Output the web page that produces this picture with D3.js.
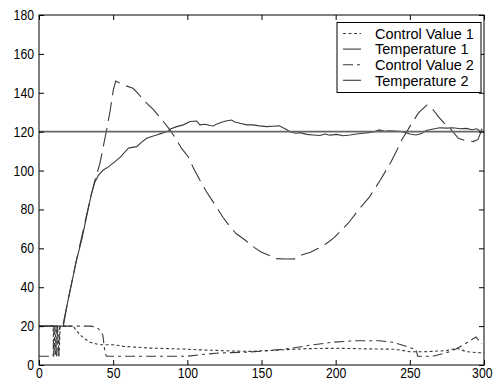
<!DOCTYPE html>
<html>
<head>
<meta charset="utf-8">
<script src="https://cdn.jsdelivr.net/npm/d3@7/dist/d3.min.js"></script>
<style>
  html, body { margin: 0; padding: 0; background: #fff; }
  svg { display: block; }
  text { font-family: "Liberation Sans", Arial, Helvetica, sans-serif; fill: #000; }
</style>
</head>
<body>
<svg id="chart" width="496" height="383"></svg>
<script>
// ---------------- data ----------------
const xTicks = [0, 50, 100, 150, 200, 250, 300];
const yTicks = [0, 20, 40, 60, 80, 100, 120, 140, 160, 180];
const legendLabels = ["Control Value 1", "Temperature 1", "Control Value 2", "Temperature 2"];
const setpointValue = 120;

// Temperature 1 (solid)
const temp1Time = [0,15,16.4,19,22,25,28.8,32,35.5,37.8,40,43.4,47,51.2,55,60.2,62,65.9,69,72.6,76,79.3,82,86.1,89,92.8,97.3,101.8,106.3,108.5,112,115.3,117.5,120,123.1,126,129.9,132,135.5,140,144.5,148.5,153.5,158,162,166.5,169.2,173,176,180.5,185,189.4,193,196,200.7,205,209.7,214,218.6,222,226,229.4,233,236,240,245,250,254.2,258,261,265,270,275,279,284,288,292,295,297,300];
const temp1Vals = [20,20,20,31,42,53,64.5,76,88.5,94.3,97.5,100.3,102,104.6,107,111.5,111.8,112.3,114.5,116.6,117.5,118.3,119,120,121.5,122.6,123.5,125.2,125.5,123.5,123.8,123.2,122.9,124,124.8,125.5,126,125,124.3,123.5,123.5,123,122.6,122.8,123,121.2,120,119.2,119.5,118.6,118.3,118,118.8,118.2,118.6,117.9,118.3,118.8,119.2,119.5,120,120.9,120.2,120.5,120.3,120,118.8,118.3,119,120.6,121.2,122,121.8,122,121.5,121.7,121,121.5,120.5,120];

// Temperature 2 (dashed)
const temp2Time = [0,16,20,25,30,34.4,37,41.1,45.6,48,50.1,51.7,57,63.4,67,70.3,77,83,88.3,92.8,96,100.7,104,108.5,113,118.7,124,128.8,133,138.9,145,150,154.6,160,167,173,177,183,188.3,194,199,204,208.5,215.3,223,230,237,241,244.5,250,255.7,261.4,263.6,266,269.2,273,277,282.7,287,292.8,296,298,300];
const temp2Vals = [20,20,35,53,70,84.9,93,103.8,120.9,131,141.5,146,144,142.3,139.5,136.3,131.5,126,120.9,115.7,111.5,107,101.5,95,89,82.3,76,71.1,67.5,64.3,60.5,58,56.6,54.7,54.5,54.6,56.6,58,60,62.6,65.5,69.4,72.9,79.7,86.6,95,104,110,115.7,122.6,129.5,133.7,133,131,127.7,124.5,121.8,116.6,115.5,114.9,116,120,125];

// Control Value 1 (dotted)
const cv1Time = [0,9.5,10,10.8,11.8,12.6,13.5,14.3,23,26,29.9,34.4,41.1,50.1,56.8,65,74.8,85,97.3,108,119.8,130,142.2,150,160,170,180,190,200,210,220,230,240,245,250,260,270,274.8,281.6,288.3,297.3,300];
const cv1Vals = [20,20,4.5,20,4.5,20,4.5,20,20,17,13.9,11.7,10.4,10.4,9.6,9.2,8.7,8.5,8.2,7.8,7.5,7.2,7.0,7.3,7.6,8,8.4,8.5,8.6,8.5,8.3,8.2,8.1,7.5,6.8,6.8,7.2,7.4,8.6,6.8,6.3,6.2];

// Control Value 2 (dash-dot)
const cv2Time = [0,9.5,10,11,12,13,14,23,35.5,40,43,44.5,45.6,63.6,80,99.6,108.5,122,139.6,150,162,171,184.5,198,213.7,229.4,238.4,247.4,254.2,255.3,265.4,274.4,281.1,289,294.6,297,298.5];
const cv2Vals = [4.5,4.5,20,4.5,20,4.5,20,20,20,18.7,15.6,6.2,4.5,4.5,4.5,4.5,5.3,6.2,6.6,7.1,7.9,8.7,10.4,11.7,12.5,12.5,11.7,9.6,7.9,4.5,4.5,6.2,8.2,11.7,14.4,12.2,11];

// ---------------- layout ----------------
const W = 496, H = 383;
const margin = { left: 39, top: 15, right: 12, bottom: 18 };
const iw = W - margin.left - margin.right;
const ih = H - margin.top - margin.bottom;

const svg = d3.select("#chart");
const g = svg.append("g").attr("transform", `translate(${margin.left},${margin.top})`);

const x = d3.scaleLinear().domain([0, 300]).range([0, iw]);
const y = d3.scaleLinear().domain([0, 180]).range([ih, 0]);

svg.append("defs").append("clipPath").attr("id", "clip")
  .append("rect").attr("width", iw).attr("height", ih);

const zip = (ts, vs) => ts.map((t, i) => [t, vs[i]]);
const line = d3.line().x(d => x(d[0])).y(d => y(d[1]));

const series = [
  { name: legendLabels[0], data: zip(cv1Time, cv1Vals), dash: "3,2.5", color: "#3a3a3a", width: 1.1 },
  { name: legendLabels[1], data: zip(temp1Time, temp1Vals), dash: null, color: "#3a3a3a", width: 1.1 },
  { name: legendLabels[2], data: zip(cv2Time, cv2Vals), dash: "10,4,3,4", color: "#3a3a3a", width: 1.1 },
  { name: legendLabels[3], data: zip(temp2Time, temp2Vals), dash: "19,7", color: "#3a3a3a", width: 1.1 }
];

const plot = g.append("g").attr("clip-path", "url(#clip)");

series.forEach(s => {
  plot.append("path")
    .datum(s.data)
    .attr("d", line)
    .attr("fill", "none")
    .attr("stroke", s.color)
    .attr("stroke-width", s.width)
    .attr("stroke-dasharray", s.dash);
});

// setpoint line
plot.append("path")
  .datum([[0, setpointValue], [300, setpointValue]])
  .attr("d", line)
  .attr("fill", "none")
  .attr("stroke", "#666")
  .attr("stroke-width", 1.8);

// ---------------- axes ----------------
const digitW = 6.8;
function styleAxis(sel) {
  sel.select(".domain").remove();
  sel.selectAll(".tick line").attr("stroke", "#000").attr("stroke-width", 1);
}
function styleLabels(sel) {
  sel.selectAll(".tick text")
    .style("font-size", "14px")
    .attr("textLength", d => String(d).length * digitW)
    .attr("lengthAdjust", "spacingAndGlyphs");
}

const axB = g.append("g").attr("transform", `translate(0,${ih})`)
  .call(d3.axisBottom(x).tickValues(xTicks).tickSize(-5).tickPadding(3));
styleAxis(axB); styleLabels(axB);
// keep the last label inside the window
axB.selectAll(".tick text").filter(d => d === 300)
  .attr("text-anchor", "end").attr("x", 8);

const axL = g.append("g")
  .call(d3.axisLeft(y).tickValues(yTicks).tickSize(-5).tickPadding(5));
styleAxis(axL); styleLabels(axL);

const axT = g.append("g")
  .call(d3.axisTop(x).tickValues(xTicks).tickSize(-5).tickFormat(""));
styleAxis(axT);

const axR = g.append("g").attr("transform", `translate(${iw},0)`)
  .call(d3.axisRight(y).tickValues(yTicks).tickSize(-5).tickFormat(""));
styleAxis(axR);

// box
g.append("rect").attr("x", 0).attr("y", 0).attr("width", iw).attr("height", ih)
  .attr("fill", "none").attr("stroke", "#000").attr("stroke-width", 1);

// ---------------- legend ----------------
const lg = svg.append("g").attr("transform", "translate(337,22.5)");
lg.append("rect").attr("x", 0).attr("y", 0).attr("width", 144).attr("height", 70)
  .attr("fill", "#fff").attr("stroke", "#000").attr("stroke-width", 1);
series.forEach((s, i) => {
  const cy = 11 + i * 15.6;
  lg.append("line").attr("x1", 6).attr("x2", 24).attr("y1", cy).attr("y2", cy)
    .attr("stroke", s.color).attr("stroke-width", s.width)
    .attr("stroke-dasharray", s.dash);
  lg.append("text").attr("x", 38).attr("y", cy).attr("dy", "0.36em")
    .style("font-size", "14.5px").text(s.name);
});
</script>
</body>
</html>
